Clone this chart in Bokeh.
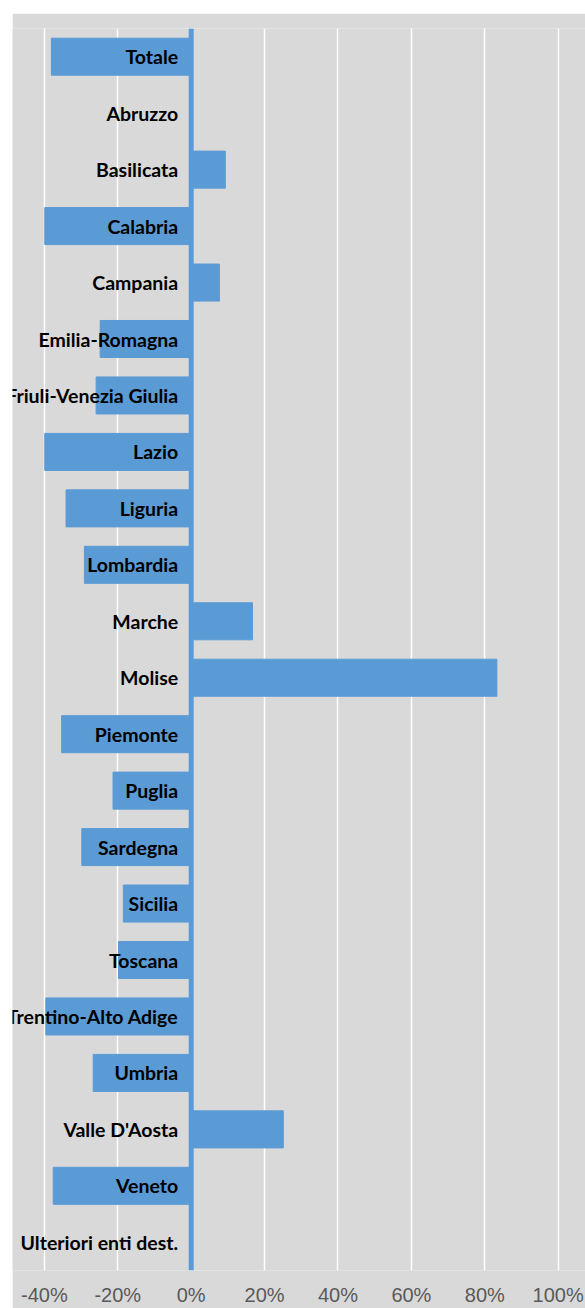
from bokeh.plotting import figure
from bokeh.models import (Range1d, FactorRange, NumeralTickFormatter, FixedTicker,
                          Span, ColumnDataSource, Spacer)
from bokeh.layouts import column, row
from bokeh.core.properties import value
from bokeh.embed import file_html
from bokeh.resources import INLINE

regions = ["Totale", "Abruzzo", "Basilicata", "Calabria", "Campania",
           "Emilia-Romagna", "Friuli-Venezia Giulia", "Lazio", "Liguria",
           "Lombardia", "Marche", "Molise", "Piemonte", "Puglia", "Sardegna",
           "Sicilia", "Toscana", "Trentino-Alto Adige", "Umbria",
           "Valle D'Aosta", "Veneto", "Ulteriori enti dest."]
variation = [-0.381, 0.0, 0.093, -0.399, 0.077,
             -0.248, -0.259, -0.399, -0.341,
             -0.291, 0.167, 0.833, -0.353, -0.213, -0.298,
             -0.185, -0.198, -0.396, -0.267,
             0.251, -0.376, 0.0]
x_ticks = [-0.4, -0.2, 0.0, 0.2, 0.4, 0.6, 0.8, 1.0]

BG = "#d9d9d9"
BAR = "#5b9bd5"

src = ColumnDataSource(data=dict(region=regions, val=variation))

p = figure(width=573, height=1295,
           y_range=FactorRange(factors=list(reversed(regions))),
           x_range=Range1d(-0.4869, 1.0744),
           output_backend="svg", toolbar_location=None,
           y_axis_location=None,
           min_border_left=0, min_border_right=0,
           min_border_top=15, min_border_bottom=38)

p.background_fill_color = BG
p.border_fill_color = BG
p.outline_line_color = None

p.hbar(y="region", left=0, right="val", height=0.656, source=src,
       fill_color=BAR, line_color=BAR, line_width=1)

p.text(x=0, y="region", text="region", source=src, x_offset=-13,
       text_align="right", text_baseline="middle",
       text_font=value("Lato"), text_font_style="bold",
       text_font_size="19.5px", text_color="black")

p.add_layout(Span(location=0, dimension="height", line_color=BAR, line_width=5))

p.xgrid.ticker = FixedTicker(ticks=x_ticks)
p.xgrid.grid_line_color = "white"
p.xgrid.grid_line_width = 1.5
p.ygrid.visible = False

ax = p.xaxis[0]
ax.ticker = FixedTicker(ticks=x_ticks)
ax.formatter = NumeralTickFormatter(format="0%")
ax.axis_line_color = None
ax.major_tick_line_color = None
ax.minor_tick_line_color = None
ax.major_tick_out = 0
ax.major_tick_in = 0
ax.major_label_standoff = 13
ax.major_label_text_font = "Liberation Sans"
ax.major_label_text_font_size = "20px"
ax.major_label_text_color = "#595959"

layout = column(Spacer(height=13), row(Spacer(width=12), p))

open("out.html", "w").write(file_html(layout, INLINE))
